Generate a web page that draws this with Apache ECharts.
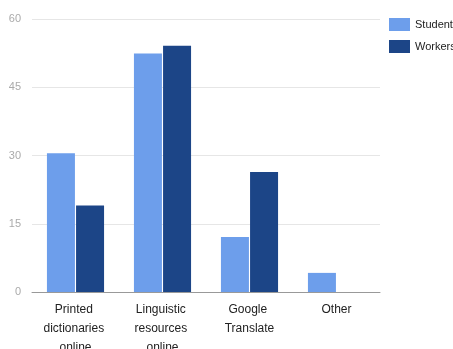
<!DOCTYPE html>
<html>
<head>
<meta charset="utf-8">
<script src="https://cdn.jsdelivr.net/npm/echarts@6/dist/echarts.min.js"></script>
<style>
  html, body { margin: 0; padding: 0; background: #fff; }
  #chart { width: 453px; height: 349px; }
</style>
</head>
<body>
<div id="chart"></div>
<script>
// values
const categories = ['Printed dictionaries online', 'Linguistic resources online', 'Google Translate', 'Other'];
const students = [30.5, 52.4, 12.1, 4.2];
const workers = [19, 54.1, 26.4, 0];
const yTicks = [0, 15, 30, 45, 60];

const myChart = echarts.init(document.getElementById('chart'));

const option = {
  animation: false,
  textStyle: { fontFamily: 'Arial, "Liberation Sans", sans-serif' },
  grid: { left: 32, right: 73, top: 19, bottom: 57, outerBoundsMode: 'none', containLabel: false },
  legend: {
    orient: 'vertical',
    left: 389,
    top: 18,
    padding: 0,
    itemWidth: 21,
    itemHeight: 13,
    itemGap: 9,
    icon: 'rect',
    textStyle: { fontSize: 11, color: '#222' },
    data: ['Students', 'Workers']
  },
  xAxis: {
    type: 'category',
    data: categories,
    axisLine: { lineStyle: { color: '#999' } },
    axisTick: { show: false },
    axisLabel: {
      interval: 0,
      margin: 8,
      fontSize: 12,
      color: '#222',
      lineHeight: 19,
      width: 72,
      overflow: 'break'
    }
  },
  yAxis: {
    type: 'value',
    min: yTicks[0],
    max: yTicks[yTicks.length - 1],
    interval: 15,
    axisLine: { show: false },
    axisTick: { show: false },
    axisLabel: { fontSize: 11, color: '#aaa', margin: 11 },
    splitLine: { lineStyle: { color: '#e6e6e6' } }
  },
  series: [
    {
      name: 'Students',
      type: 'bar',
      data: students,
      barWidth: 28,
      barGap: '4%',
      itemStyle: { color: '#6d9eeb' }
    },
    {
      name: 'Workers',
      type: 'bar',
      data: workers,
      barWidth: 28,
      itemStyle: { color: '#1c4587' }
    }
  ]
};

myChart.setOption(option);
</script>
</body>
</html>
